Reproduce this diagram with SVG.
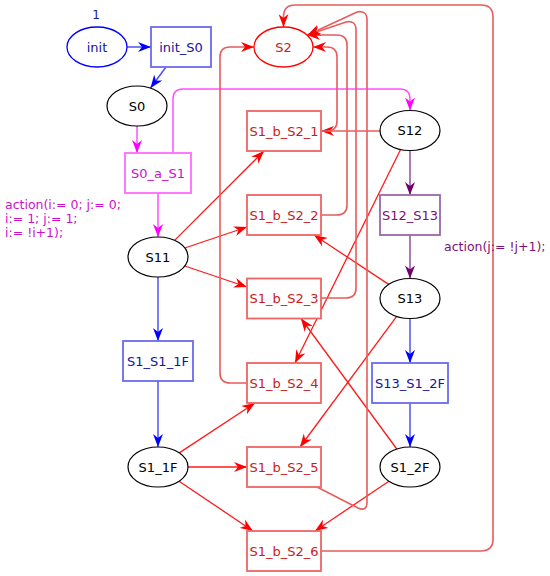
<svg xmlns="http://www.w3.org/2000/svg" width="550" height="576" viewBox="0 0 550 576">
<style>
text{font-family:"DejaVu Sans","Liberation Sans",sans-serif;font-size:13px;text-anchor:middle}
.lbl{font-size:12.5px;text-anchor:start}
.pl{fill:#fff;stroke:#000;stroke-width:1.2}
.bx{fill:#fff;stroke-width:1.8}
.bb{stroke:#6a6aee}
.rb{stroke:#ef6464}
.mb{stroke:#ff6aff}
.pb{stroke:#9a68a8}
.e{fill:none}
.eb{stroke:#5050f0;stroke-width:1.5;marker-end:url(#ab)}
.em{stroke:#ff50ff;stroke-width:1.5;marker-end:url(#am)}
.ep{stroke:#9a5aa2;stroke-width:1.6;marker-end:url(#ap)}
.er{stroke:#ff1a1a;stroke-width:1.3;marker-end:url(#ar)}
.eR{stroke:#e85c5c;stroke-width:1.6;marker-end:url(#ar)}
.tb{fill:#1414a0}
.tr{fill:#cc1a1a}
.tm{fill:#cc10cc}
.tp{fill:#7a107a}
.tk{fill:#000}
</style>
<defs>
<marker id="ab" viewBox="0 0 13 10" refX="13" refY="5" markerWidth="13" markerHeight="10" markerUnits="userSpaceOnUse" orient="auto"><path d="M0,0 L13,5 L0,10 L4,5 z" fill="#0000ff"/></marker>
<marker id="am" viewBox="0 0 13 10" refX="13" refY="5" markerWidth="13" markerHeight="10" markerUnits="userSpaceOnUse" orient="auto"><path d="M0,0 L13,5 L0,10 L4,5 z" fill="#ff00ff"/></marker>
<marker id="ap" viewBox="0 0 13 10" refX="13" refY="5" markerWidth="13" markerHeight="10" markerUnits="userSpaceOnUse" orient="auto"><path d="M0,0 L13,5 L0,10 L4,5 z" fill="#700070"/></marker>
<marker id="ar" viewBox="0 0 13 10" refX="13" refY="5" markerWidth="13" markerHeight="10" markerUnits="userSpaceOnUse" orient="auto"><path d="M0,0 L13,5 L0,10 L4,5 z" fill="#ff0000"/></marker>
</defs>
<rect width="550" height="576" fill="#fff"/>
<g id="connectors" class="e">
<path class="eb" d="M127 47 L151 47"/>
<path class="eb" d="M166 67 L150.5 88"/>
<path class="eb" d="M158 277 L158 341"/>
<path class="eb" d="M158 381 L158 447"/>
<path class="eb" d="M410 318.5 L410 363"/>
<path class="eb" d="M410 403 L410 447"/>
<path class="em" d="M137 126 L137 153"/>
<path class="em" d="M158 193 L158 237"/>
<path class="em" d="M173 153 V99 Q173 89 183 89 H400 Q410 89 410 99 V110.5"/>
<path class="ep" d="M410 150.5 L410 195"/>
<path class="ep" d="M410 235 L410 278.5"/>
<path class="er" d="M174.6 240.4 L264 151"/>
<path class="er" d="M184.8 248 L247 227"/>
<path class="er" d="M184.8 266 L247 287"/>
<path class="er" d="M179.3 452.9 L255 403"/>
<path class="er" d="M188 467 L247 467"/>
<path class="er" d="M179.1 481.2 L253 531"/>
<path class="eR" d="M380 131 L321 131"/>
<path class="er" d="M400.6 149.5 L295 363"/>
<path class="er" d="M388.7 284.4 L314 235"/>
<path class="er" d="M396.7 316.4 L300 447"/>
<path class="er" d="M396.8 449 L301 318.5"/>
<path class="er" d="M388.9 481.2 L315 531"/>
<path class="eR" d="M321 131 H327 Q337 131 337 121 V57 Q337 47 327 47 H313"/>
<path class="eR" d="M321 215 H337 Q347 215 347 205 V45 Q347 35 337 35 H307"/>
<path class="eR" d="M321 298 H346 Q356 298 356 288 V30 Q356 20 346 22 L307.5 35"/>
<path class="eR" d="M317 487 L358 508 Q367 512 367 502 V20 Q367 10 357 12 L307.5 35"/>
<path class="eR" d="M247 383 H230 Q220 383 220 373 V57 Q220 47 230 47 H254"/>
<path class="eR" d="M321 551 H481 Q493 551 493 539 V17 Q493 5 481 5 H295 Q283.5 5 283.5 17 V27"/>
</g>
<g id="init"><ellipse cx="97" cy="47" rx="30" ry="20" fill="#fff" stroke="#0000ff" stroke-width="1.3"/><text class="tb" x="97" y="51.5">init</text><text class="tb" x="96" y="19" style="font-size:12px">1</text></g>
<g id="init_S0"><rect class="bx bb" x="151" y="27" width="60" height="40"/><text class="tb" x="181" y="51.5">init_S0</text></g>
<g id="S0"><ellipse class="pl" cx="137" cy="106" rx="30" ry="20"/><text class="tk" x="137" y="110.5">S0</text></g>
<g id="S0_a_S1"><rect class="bx mb" x="125" y="153" width="66" height="40"/><text class="tm" x="158" y="177.5">S0_a_S1</text></g>
<g id="S11"><ellipse class="pl" cx="158" cy="257" rx="30" ry="20"/><text class="tk" x="158" y="261.5">S11</text></g>
<g id="S1_S1_1F"><rect class="bx bb" x="123" y="341" width="70" height="40"/><text class="tb" x="158" y="365.5">S1_S1_1F</text></g>
<g id="S1_1F"><ellipse class="pl" cx="158" cy="467" rx="30" ry="20"/><text class="tk" x="158" y="471.5">S1_1F</text></g>
<g id="S2"><ellipse cx="283.5" cy="47" rx="29.5" ry="20" fill="#fff" stroke="#ff0000" stroke-width="1.3"/><text class="tr" x="283.5" y="51.5">S2</text></g>
<g id="S1_b_S2_1"><rect class="bx rb" x="247" y="111" width="74" height="40"/><text class="tr" x="284" y="135.5">S1_b_S2_1</text></g>
<g id="S1_b_S2_2"><rect class="bx rb" x="247" y="195" width="74" height="40"/><text class="tr" x="284" y="219.5">S1_b_S2_2</text></g>
<g id="S1_b_S2_3"><rect class="bx rb" x="247" y="278.5" width="74" height="40"/><text class="tr" x="284" y="303">S1_b_S2_3</text></g>
<g id="S1_b_S2_4"><rect class="bx rb" x="247" y="363" width="74" height="40"/><text class="tr" x="284" y="387.5">S1_b_S2_4</text></g>
<g id="S1_b_S2_5"><rect class="bx rb" x="247" y="447" width="74" height="40"/><text class="tr" x="284" y="471.5">S1_b_S2_5</text></g>
<g id="S1_b_S2_6"><rect class="bx rb" x="247" y="531" width="74" height="40"/><text class="tr" x="284" y="555.5">S1_b_S2_6</text></g>
<g id="S12"><ellipse class="pl" cx="410" cy="130.5" rx="30" ry="20"/><text class="tk" x="410" y="135">S12</text></g>
<g id="S12_S13"><rect class="bx pb" x="380" y="195" width="60" height="40"/><text class="tp" x="410" y="219.5">S12_S13</text></g>
<g id="S13"><ellipse class="pl" cx="410" cy="298.5" rx="30" ry="20"/><text class="tk" x="410" y="303">S13</text></g>
<g id="S13_S1_2F"><rect class="bx bb" x="372" y="363" width="76" height="40"/><text class="tb" x="410" y="387.5">S13_S1_2F</text></g>
<g id="S1_2F"><ellipse class="pl" cx="410" cy="467" rx="30" ry="20"/><text class="tk" x="410" y="471.5">S1_2F</text></g>
<g id="labels">
<text class="lbl tm" x="5" y="208.5">action(i:= 0; j:= 0;</text>
<text class="lbl tm" x="5" y="222.5">i:= 1; j:= 1;</text>
<text class="lbl tm" x="5" y="236.5">i:= !i+1);</text>
<text class="lbl tp" x="444" y="250.5">action(j:= !j+1);</text>
</g>
</svg>
